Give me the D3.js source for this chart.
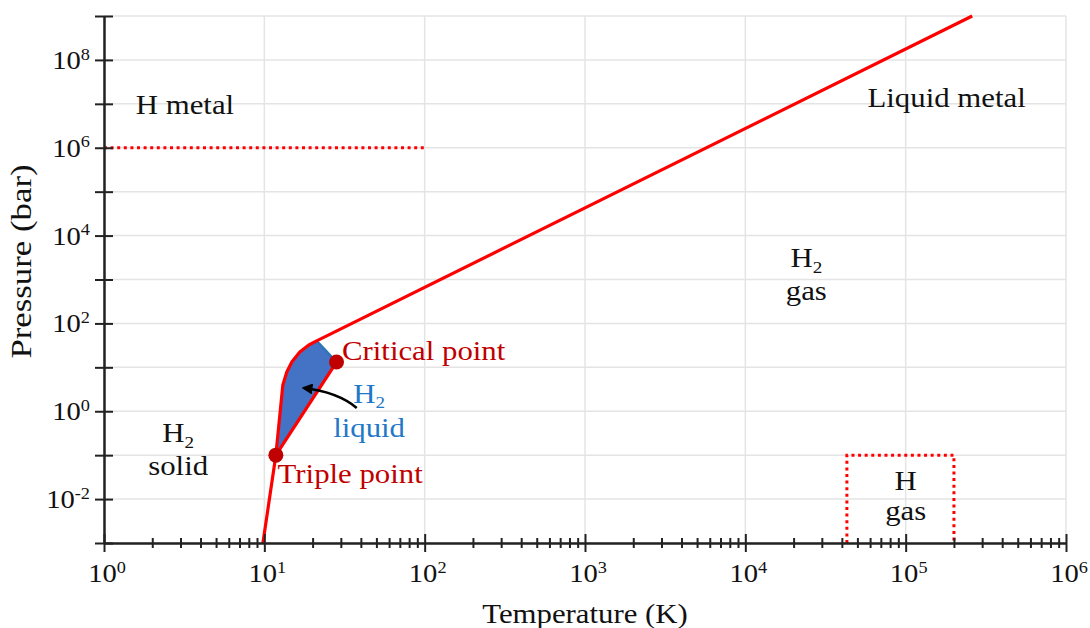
<!DOCTYPE html>
<html>
<head>
<meta charset="utf-8">
<script src="https://cdn.jsdelivr.net/npm/d3@7"></script>
<style>
  body { margin: 0; background: #fff; }
  svg { display: block; }
</style>
</head>
<body>
<section></section>
<script>
// Phase diagram of hydrogen: temperature (K) vs pressure (bar), log-log

const xDomain = [1, 1e6];
const yDomain = [1e-3, 1e9];
const xLabelExps = [0, 1, 2, 3, 4, 5, 6];
const yLabelExps = [-2, 0, 2, 4, 6, 8];

// melting line (solid boundary) and its continuation to the metal phase
const meltingLine = [
    [9.8, 1e-3], [11.8, 0.1], [13.04, 3.95], [13.81, 7.8], [14.84, 13.2],
    [16.64, 22.3], [18.94, 32.2], [21.2, 40], [2.6e5, 1e9]
];
const triplePoint = [11.8, 0.1];
const criticalPoint = [28.2, 13.2];
// liquid region: melting line from triple point up to the knee, then to the critical point
const liquidRegion = [
    [11.8, 0.1], [13.04, 3.95], [13.81, 7.8], [14.84, 13.2],
    [16.64, 22.3], [18.94, 32.2], [21.2, 40], [28.2, 13.2]
];
const metalLine = [[1, 1e6], [100, 1e6]];
const hGasBox = [[4.3e4, 1e-3], [4.3e4, 0.1], [2e5, 0.1], [2e5, 1e-3]];
const arrowPath = [[37.7, 1.19], [28.7, 2.74], [17.6, 3.38]];

const labels = [
    { T: 3.2, P: 6e6, parts: [["H metal"]], fill: "#111", anchor: "middle" },
    { T: 1.8e5, P: 8.4e6, parts: [["Liquid metal"]], fill: "#111", anchor: "middle" },
    { T: 2.4e4, P: 1.9e3, parts: [["H"], ["2", "sub"]], fill: "#111", anchor: "middle" },
    { T: 2.4e4, P: 340, parts: [["gas"]], fill: "#111", anchor: "middle" },
    { T: 2.9, P: 0.2, parts: [["H"], ["2", "sub"]], fill: "#111", anchor: "middle" },
    { T: 2.9, P: 0.035, parts: [["solid"]], fill: "#111", anchor: "middle" },
    { T: 1e5, P: 0.0161, parts: [["H"]], fill: "#111", anchor: "middle" },
    { T: 1e5, P: 0.00334, parts: [["gas"]], fill: "#111", anchor: "middle" },
    { T: 30.5, P: 14.5, parts: [["Critical point"]], fill: "#c00000", anchor: "start" },
    { T: 12.1, P: 0.0232, parts: [["Triple point"]], fill: "#c00000", anchor: "start" },
    { T: 45, P: 1.55, parts: [["H"], ["2", "sub"]], fill: "#1f78c8", anchor: "middle" },
    { T: 45, P: 0.26, parts: [["liquid"]], fill: "#1f78c8", anchor: "middle" }
];

const width = 1090;
const height = 628;
const marginTop = 16;
const marginRight = 24;
const marginBottom = 85;
const marginLeft = 104;
const serif = "'Liberation Serif', 'Times New Roman', serif";
const stretch = 1.1;

const x = d3.scaleLog().domain(xDomain).range([marginLeft, width - marginRight]);
const y = d3.scaleLog().domain(yDomain).range([height - marginBottom, marginTop]);

const svg = d3.select("section")
    .append("svg")
    .attr("width", width)
    .attr("height", height)
    .attr("viewBox", [0, 0, width, height]);

svg.append("defs").append("marker")
    .attr("id", "head")
    .attr("viewBox", "0 0 10 10")
    .attr("refX", 8).attr("refY", 5)
    .attr("markerWidth", 4.4).attr("markerHeight", 4.4)
    .attr("orient", "auto")
    .append("path")
    .attr("d", "M0,0L10,5L0,10z")
    .attr("fill", "#000");

// write text with optional super/subscripts, slightly widened like the original
function addText(px, py, parts, size, fill, anchor) {
    const t = svg.append("g")
        .attr("transform", `translate(${px},${py}) scale(${stretch},1)`)
        .append("text")
        .attr("font-family", serif)
        .attr("font-size", size)
        .attr("fill", fill)
        .attr("text-anchor", anchor);
    parts.forEach(([s, kind]) => {
        const sp = t.append("tspan").text(s);
        if (kind === "sup") sp.attr("font-size", size * 0.64).attr("dy", -size * 0.36);
        if (kind === "sub") sp.attr("font-size", size * 0.62).attr("dy", size * 0.2);
    });
    return t;
}

// grid
const xDecades = d3.range(0, 7).map(e => Math.pow(10, e));
const yDecades = d3.range(-3, 10).map(e => Math.pow(10, e));

svg.append("g")
    .attr("stroke", "#e4e4e4")
    .attr("stroke-width", 1.5)
    .call(g => g.selectAll("line.v")
        .data(xDecades)
        .join("line")
        .attr("class", "v")
        .attr("x1", d => x(d)).attr("x2", d => x(d))
        .attr("y1", y(yDomain[0])).attr("y2", y(yDomain[1])))
    .call(g => g.selectAll("line.h")
        .data(yDecades)
        .join("line")
        .attr("class", "h")
        .attr("x1", x(xDomain[0])).attr("x2", x(xDomain[1]))
        .attr("y1", d => y(d)).attr("y2", d => y(d)));

const line = d3.line().x(d => x(d[0])).y(d => y(d[1]));

// liquid region
svg.append("path")
    .datum(liquidRegion)
    .attr("d", d => line(d) + "Z")
    .attr("fill", "#4472c4");

svg.append("path")
    .datum([liquidRegion[6], criticalPoint])
    .attr("d", line)
    .attr("fill", "none")
    .attr("stroke", "#2e75b6")
    .attr("stroke-width", 2.5);

// phase boundaries
svg.append("path")
    .datum(meltingLine)
    .attr("d", line)
    .attr("fill", "none")
    .attr("stroke", "#ff0000")
    .attr("stroke-width", 3.2)
    .attr("stroke-linejoin", "round");

svg.append("path")
    .datum([triplePoint, criticalPoint])
    .attr("d", line)
    .attr("fill", "none")
    .attr("stroke", "#ff0000")
    .attr("stroke-width", 3.2);

// dotted boundaries
[metalLine, hGasBox].forEach(pts => {
    svg.append("path")
        .datum(pts)
        .attr("d", line)
        .attr("fill", "none")
        .attr("stroke", "#ff0000")
        .attr("stroke-width", 3)
        .attr("stroke-dasharray", "3,3.6");
});

// triple & critical points
svg.append("g")
    .attr("fill", "#c00000")
    .selectAll("circle")
    .data([triplePoint, criticalPoint])
    .join("circle")
    .attr("cx", d => x(d[0]))
    .attr("cy", d => y(d[1]))
    .attr("r", 7.5);

// arrow to the liquid region
svg.append("path")
    .attr("d", `M${x(arrowPath[0][0])},${y(arrowPath[0][1])}Q${x(arrowPath[1][0])},${y(arrowPath[1][1])} ${x(arrowPath[2][0])},${y(arrowPath[2][1])}`)
    .attr("fill", "none")
    .attr("stroke", "#000")
    .attr("stroke-width", 2.5)
    .attr("marker-end", "url(#head)");

// axes
svg.append("g")
    .attr("transform", `translate(${marginLeft},0)`)
    .call(d3.axisLeft(y).tickValues(yDecades).tickSize(9).tickSizeOuter(0).tickFormat(""))
    .call(g => g.select(".domain").attr("stroke", "#222").attr("stroke-width", 2.5))
    .call(g => g.selectAll(".tick line").attr("x1", 9).attr("stroke", "#222").attr("stroke-width", 2));

const minor = x.ticks().filter(d => !xDecades.includes(d));
svg.append("g")
    .attr("transform", `translate(0,${height - marginBottom})`)
    .call(d3.axisBottom(x).tickValues(minor).tickSize(5).tickSizeOuter(0).tickFormat(""))
    .call(g => g.select(".domain").remove())
    .call(g => g.selectAll(".tick line").attr("y1", -5).attr("stroke", "#222").attr("stroke-width", 2));

svg.append("g")
    .attr("transform", `translate(0,${height - marginBottom})`)
    .call(d3.axisBottom(x).tickValues(xDecades).tickSize(9).tickSizeOuter(0).tickFormat(""))
    .call(g => g.select(".domain").attr("stroke", "#222").attr("stroke-width", 2.5))
    .call(g => g.selectAll(".tick line").attr("y1", -9).attr("stroke", "#222").attr("stroke-width", 2));

// tick labels
xLabelExps.forEach(e => {
    addText(x(Math.pow(10, e)) + 3, height - marginBottom + 39, [["10"], [String(e), "sup"]], 26, "#111", "middle");
});
yLabelExps.forEach(e => {
    addText(marginLeft - 14, y(Math.pow(10, e)) + 9, [["10"], [String(e), "sup"]], 26, "#111", "end");
});

// axis titles
addText((marginLeft + width - marginRight) / 2, height - 5, [["Temperature (K)"]], 28, "#111", "middle");
svg.append("g")
    .attr("transform", `translate(31,${(marginTop + height - marginBottom) / 2 - 18}) rotate(-90) scale(1.2,1)`)
    .append("text")
    .attr("font-family", serif)
    .attr("font-size", 29)
    .attr("fill", "#111")
    .attr("text-anchor", "middle")
    .text("Pressure (bar)");

// region labels
labels.forEach(l => addText(x(l.T), y(l.P), l.parts, 28, l.fill, l.anchor));
</script>
</body>
</html>
